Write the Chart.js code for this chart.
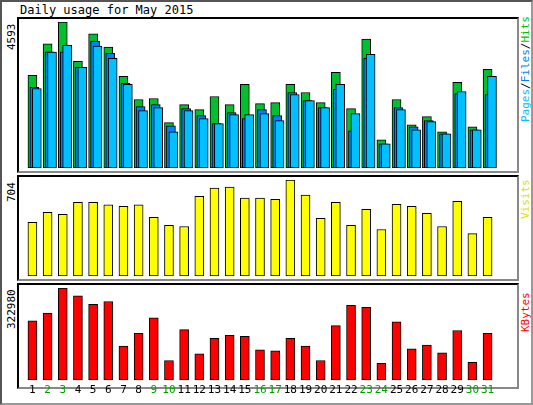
<!DOCTYPE html>
<html><head><meta charset="utf-8">
<script src="https://cdn.jsdelivr.net/npm/chart.js@4"></script>
<style>
body{margin:0;background:#fff;}
#wrap{position:relative;width:533px;height:405px;box-sizing:border-box;border:2px solid #555;border-right-color:#999;border-bottom-color:#999;overflow:hidden;font-family:"DejaVu Sans Mono",monospace;}
.panel{position:absolute;box-sizing:border-box;border:2px solid #000;border-right-color:#888;border-bottom-color:#888;}
.t{position:absolute;font-size:11px;white-space:nowrap;line-height:11px;}
.r{transform:rotate(-90deg);transform-origin:left top;}
canvas{position:absolute;}
</style></head><body>
<div id="wrap">
<div class="t" style="left:18px;top:3px;font-size:12px;">Daily usage for May 2015</div>
<div class="panel" style="left:15px;top:15px;width:502px;height:156px;"></div>
<div class="panel" style="left:15px;top:173px;width:502px;height:106px;"></div>
<div class="panel" style="left:15px;top:281px;width:502px;height:106px;"></div>
<div class="t r" style="left:4px;top:48px;">4593</div>
<div class="t r" style="left:4px;top:200px;">704</div>
<div class="t r" style="left:4px;top:327px;">322980</div>
<div class="t r" style="left:518px;top:120px;"><span style="color:#00C0FF">Pages</span>/<span style="color:#0080FF">Files</span>/<span style="color:#00C000">Hits</span></div>
<div class="t r" style="left:518px;top:217px;color:#E0E000">Visits</div>
<div class="t r" style="left:518px;top:330px;color:#FF0000">KBytes</div>
</div>
<canvas id="c1"></canvas><canvas id="c2"></canvas><canvas id="c3"></canvas>
<script>
const days=[1,2,3,4,5,6,7,8,9,10,11,12,13,14,15,16,17,18,19,20,21,22,23,24,25,26,27,28,29,30,31];
const weekend=[2,3,9,10,16,17,23,24,30,31];
const hits=[2914,3907,4593,3358,4224,3801,2883,2154,2186,1425,1996,1837,2249,1996,2629,2027,2059,2629,2376,2059,3009,1869,4055,887,2154,1362,1616,1140,2693,1299,3104];
const files=[2534,3653,3653,3168,3991,3611,2661,1932,1996,1330,1869,1647,1394,1742,1552,1837,1647,2376,2122,1901,2471,1172,3453,760,1901,1299,1489,1077,2344,1204,2312];
const pages=[2502,3643,3865,3168,3833,3453,2629,1806,1901,1140,1806,1552,1394,1679,1679,1711,1489,2312,2122,1901,2629,1711,3579,760,1837,1204,1457,1077,2407,1204,2883];
const visits=[393,467,452,541,541,521,511,521,430,371,363,585,645,652,571,571,563,704,593,422,541,371,489,341,526,511,459,363,548,311,430];
const kbytes=[207400,234600,322980,295800,265200,275400,119000,163200,217600,68000,176800,91800,146200,156400,153000,105400,102000,146200,119000,68000,190400,261800,255000,57800,204000,108800,122400,95200,173400,61200,163200];
const maxHits=4593, maxVisits=704, maxKB=322980;

function place(id,l,t,w,h){const c=document.getElementById(id);c.style.left=l+'px';c.style.top=t+'px';c.style.width=w+'px';c.style.height=h+'px';c.width=w;c.height=h;return c;}
function ds(vals,off,color,order){return {order:order,data:vals.map((v,i)=>({x:days[i]+off,y:v})),backgroundColor:color,borderColor:'#000',borderWidth:1,barThickness:9,grouped:false,borderSkipped:false};}
function opts(max,showX){return {responsive:false,animation:false,clip:false,
 layout:{padding:0},
 plugins:{legend:{display:false},tooltip:{enabled:false}},
 scales:{x:{type:'linear',min:0.5,max:31.5,display:showX,grid:{display:false,drawTicks:false},border:{display:false},
   afterBuildTicks:s=>{s.ticks=days.map(d=>({value:d}));},
   ticks:{padding:4,autoSkip:false,maxRotation:0,font:{family:'DejaVu Sans Mono',size:11},
     color:c=>weekend.includes(c.tick.value)?'#00A000':'#000',callback:v=>String(v)}},
  y:{min:0,max:max,display:false}}};}
new Chart(place('c1',17,22,486,146),{type:'bar',data:{datasets:[ds(pages,0.29,'#00C0FF',1),ds(files,0.13,'#0080FF',2),ds(hits,0,'#00C030',3)]},options:opts(maxHits,false)});
new Chart(place('c2',17,180,486,96),{type:'bar',data:{datasets:[ds(visits,0,'#FFFF00',1)]},options:opts(maxVisits,false)});
new Chart(place('c3',17,288,486,113),{type:'bar',data:{datasets:[ds(kbytes,0,'#FF0000',1)]},options:opts(maxKB,true)});
</script></body></html>
